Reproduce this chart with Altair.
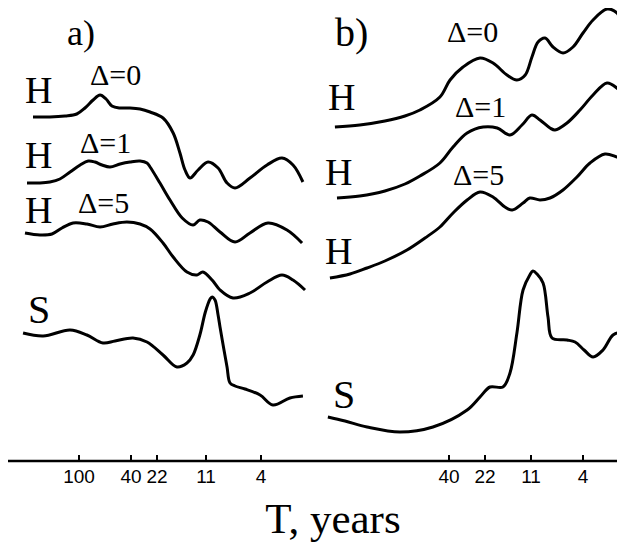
import altair as alt
import pandas as pd

# ---------------- data ----------------
# period T (years) and relative spectral level (arbitrary units, offset per curve)
A_TICKS = [100, 40, 22, 11, 4]
B_TICKS = [40, 22, 11, 4]

a_h0_T = [225, 167, 128, 104, 90, 78, 69, 62.1, 56.0, 48.5, 40.7, 32.5, 25.8, 20.2, 17.5, 15.9, 14.8, 13.8,
          12.3, 10.6, 8.81, 7.47, 6.45, 4.90, 3.58, 2.72, 2.22, 1.85]
a_h0_v = [344, 344, 345, 347, 353, 361, 366, 362, 355, 353, 353, 352, 349, 343, 328, 308, 291, 283,
          291, 299, 293, 278, 273, 283, 296, 303, 296, 279]

a_h1_T = [250, 199, 167, 140, 117, 98, 85, 75.5, 66.7, 57.9, 48.5, 40.7, 32.5, 27.7, 25.8, 21.1, 18.3, 15.4,
          13.2, 12.0, 10.6, 8.50, 6.45, 4.90, 3.52, 2.48, 1.88]
a_h1_v = [278, 278, 279, 282, 289, 296, 300, 299, 296, 294, 297, 299, 300, 298, 294, 278, 261, 243,
          236, 241, 239, 229, 219, 228, 238, 231, 218]

a_h5_T = [259, 199, 161, 135, 111, 87, 69, 55.0, 43.0, 32.5, 25.8, 20.2, 17.5, 14.4, 12.5, 11.5, 9.84, 8.50,
          6.69, 4.90, 3.58, 2.72, 2.22, 1.78]
a_h5_v = [228, 226, 227, 233, 238, 237, 234, 237, 239, 237, 232, 218, 204, 189, 186, 189, 181, 171,
          163, 168, 179, 186, 181, 171]

a_s_T = [268, 188, 117, 87, 65.5, 53, 38.2, 27.7, 20.2, 16.6, 14.4, 13.2, 12.0, 11.1, 10.2, 9.84, 9.32, 8.81,
         8.50, 7.90, 7.47, 7.07, 6.45, 5.37, 4.07, 3.21, 2.35, 1.85]
a_s_v = [128, 125, 131, 126, 118, 120, 123, 119, 106, 94, 98, 106, 126, 149, 162, 164, 161, 146,
         134, 111, 94, 78, 75, 72, 66, 56, 63, 65]

b_h0_T = [266, 176, 116, 83.1, 64.8, 46.5, 39.3, 31.7, 23.9, 19.5, 15.8, 13.6, 12.0, 10.8, 9.59, 8.37, 7.17,
          5.90, 4.86, 4.00, 3.29, 2.51, 2.07, 1.77]
b_h0_v = [334, 336, 340, 345, 351, 364, 381, 394, 403, 398, 386, 381, 386, 404, 419, 423, 414,
          408, 414, 428, 441, 452, 448, 431]

b_h1_T = [257, 176, 116, 83.1, 64.8, 46.5, 37.4, 29.6, 22.7, 18.3, 15.1, 12.6, 10.8, 9.23, 7.60, 6.90, 5.46,
          4.24, 3.29, 2.51, 2.07, 1.77]
b_h1_v = [263, 265, 270, 277, 285, 298, 314, 328, 334, 333, 326, 336, 346, 341, 333, 331, 338,
          351, 366, 378, 373, 364]

b_h5_T = [289, 207, 156, 116, 80.4, 59.6, 46.5, 37.4, 29.6, 23.9, 19.5, 16.3, 14.6, 12.4, 11.2, 9.23, 7.60,
          5.90, 4.50, 3.49, 2.61, 2.07, 1.77]
b_h5_v = [183, 187, 193, 200, 211, 223, 234, 248, 261, 269, 264, 254, 251, 258, 263, 261, 263,
          271, 284, 298, 307, 304, 301]

b_s_T = [299, 225, 156, 90.3, 52.2, 29.6, 23.9, 20.4, 16.8, 15.1, 13.6, 12.4, 11.2, 10.6, 9.78, 8.70, 7.90,
         7.31, 5.46, 4.67, 3.92, 3.29, 2.71, 2.23, 1.95, 1.77]
b_s_v = [44, 40, 34, 29, 34, 51, 64, 74, 74, 88, 128, 171, 186, 190, 187, 178, 144,
         123, 121, 119, 111, 104, 111, 126, 128, 123]

PANEL_TAGS = ["a)", "b)"]
CURVE_TAGS = ["H", "H", "H", "S"]
DELTA_TAGS = ["Δ=0", "Δ=1", "Δ=5"]
X_TITLE = "T, years"

# ---------------- build tables ----------------
def curves_df(specs):
    rows = []
    for name, (ts, vs) in specs.items():
        for i, (t, v) in enumerate(zip(ts, vs)):
            rows.append({"curve": name, "T": t, "v": v, "i": i})
    return pd.DataFrame(rows)

df_a = curves_df({"H0": (a_h0_T, a_h0_v), "H1": (a_h1_T, a_h1_v),
                  "H5": (a_h5_T, a_h5_v), "S": (a_s_T, a_s_v)})
df_b = curves_df({"H0": (b_h0_T, b_h0_v), "H1": (b_h1_T, b_h1_v),
                  "H5": (b_h5_T, b_h5_v), "S": (b_s_T, b_s_v)})

W, H = 609, 453
y_scale = alt.Scale(domain=[0, 453], nice=False, zero=False)

# hand-drawn period axes: piecewise log scales pinned at the drawn tick marks
scale_a = alt.Scale(type="log", domain=A_TICKS, range=[71, 123, 149, 198, 253], nice=False)
scale_b = alt.Scale(type="log", domain=B_TICKS, range=[441, 477, 523, 575], nice=False)


def panel(df, scale, ticks):
    lines = alt.Chart(df).mark_line(color="black", strokeWidth=3, interpolate="catmull-rom").encode(
        x=alt.X("T:Q", scale=scale, axis=None),
        y=alt.Y("v:Q", scale=y_scale, axis=None),
        detail="curve:N",
        order="i:Q",
    )
    tick_df = pd.DataFrame({"T": ticks})
    tick_marks = alt.Chart(tick_df).mark_rule(color="black", strokeWidth=2).encode(
        x=alt.X("T:Q", scale=scale, axis=None),
        y=alt.value(453),
        y2=alt.value(447),
    )
    tick_labels = alt.Chart(tick_df).mark_text(
        font="Liberation Sans", fontSize=19, color="black", align="center", baseline="top"
    ).encode(
        x=alt.X("T:Q", scale=scale, axis=None),
        y=alt.value(460),
        text=alt.Text("T:Q", format="d"),
    )
    return alt.layer(lines, tick_marks, tick_labels)


baseline = alt.Chart(pd.DataFrame({"k": [0]})).mark_rule(color="black", strokeWidth=2.4).encode(
    x=alt.value(0), x2=alt.value(W), y=alt.value(453)
)


def label(txt, px, py, size, align="left"):
    return alt.Chart(pd.DataFrame({"t": [txt]})).mark_text(
        font="Liberation Serif", fontSize=size, color="black", align=align, baseline="alphabetic"
    ).encode(text="t:N", x=alt.value(px), y=alt.value(py))


labels = [
    label(PANEL_TAGS[0], 59, 37, 36),
    label(PANEL_TAGS[1], 327, 38, 40),
    label(CURVE_TAGS[0], 17, 95, 38),
    label(CURVE_TAGS[1], 17, 160, 38),
    label(CURVE_TAGS[2], 17, 215, 38),
    label(CURVE_TAGS[3], 20, 315, 40),
    label(CURVE_TAGS[0], 320, 102, 38),
    label(CURVE_TAGS[1], 317, 177, 38),
    label(CURVE_TAGS[2], 317, 256, 38),
    label(CURVE_TAGS[3], 325, 400, 40),
    label(DELTA_TAGS[0], 82, 77, 30),
    label(DELTA_TAGS[1], 72, 145, 30),
    label(DELTA_TAGS[2], 70, 205, 30),
    label(DELTA_TAGS[0], 439, 34, 30),
    label(DELTA_TAGS[1], 447, 109, 30),
    label(DELTA_TAGS[2], 445, 177, 30),
    label(X_TITLE, 325, 525, 43, align="center"),
]

chart = alt.layer(
    baseline, panel(df_a, scale_a, A_TICKS), panel(df_b, scale_b, B_TICKS), *labels
).resolve_scale(x="independent").properties(
    width=W, height=H,
    padding={"left": 0, "top": 0, "right": 0, "bottom": 84},
    autosize=alt.AutoSizeParams(type="none"),
    background="white",
).configure_view(stroke=None)

chart.save("out.html", embed_options={"renderer": "svg", "actions": False})
